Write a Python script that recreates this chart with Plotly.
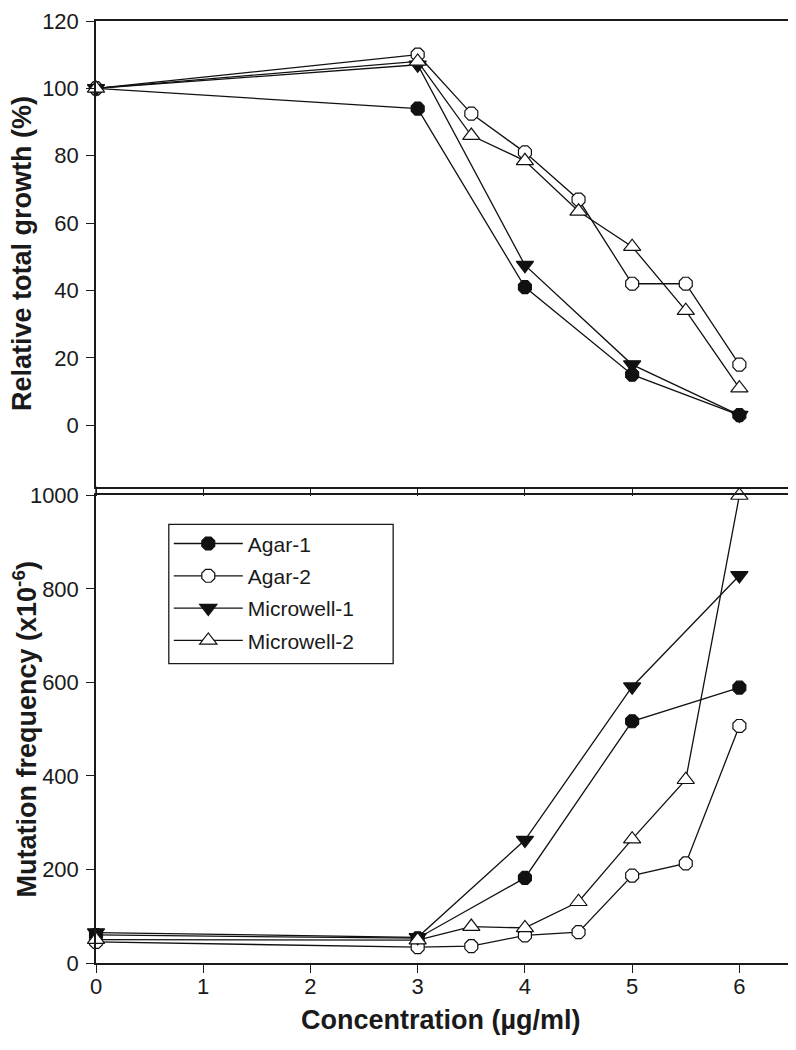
import plotly.graph_objects as go

# ---- data ----
conc_a = [0, 3, 4, 5, 6]
conc_b = [0, 3, 3.5, 4, 4.5, 5, 5.5, 6]

agar1_growth = [100, 94, 41, 15, 3]
agar2_growth = [100, 110, 92.5, 81, 67, 42, 42, 18]
mw1_growth = [100, 107, 47.5, 18, 3]
mw2_growth = [100, 108, 86, 78.5, 63.5, 53, 34, 11]

agar1_mf = [60, 53, 182, 517, 589]
agar2_mf = [45, 34, 36, 59, 66, 187, 213, 507]
mw1_mf = [65, 55, 263, 591, 829]
mw2_mf = [50, 49, 78, 75, 131, 265, 392, 1000]

series_names = ["Agar-1", "Agar-2", "Microwell-1", "Microwell-2"]
x_ticks = [0, 1, 2, 3, 4, 5, 6]
growth_ticks = [0, 20, 40, 60, 80, 100, 120]
mf_ticks = [0, 200, 400, 600, 800, 1000]

FONT = "Arial, Liberation Sans, sans-serif"
INK = "#1a1a1a"

styles = [
    dict(symbol="octagon", size=14, color="#111111", line=dict(color="#111111", width=1.2)),
    dict(symbol="octagon", size=14, color="white", line=dict(color="#111111", width=1.2)),
    dict(symbol="triangle-down", size=15, color="#111111", line=dict(color="#111111", width=1.2)),
    dict(symbol="triangle-up", size=15, color="white", line=dict(color="#111111", width=1.2)),
]

top_series = [(conc_a, agar1_growth), (conc_b, agar2_growth), (conc_a, mw1_growth), (conc_b, mw2_growth)]
bot_series = [(conc_a, agar1_mf), (conc_b, agar2_mf), (conc_a, mw1_mf), (conc_b, mw2_mf)]

fig = go.Figure()
for i, (name, st) in enumerate(zip(series_names, styles)):
    x, y = top_series[i]
    fig.add_trace(go.Scatter(x=x, y=y, mode="lines+markers", name=name, legendgroup=name,
                             showlegend=False, marker=st, line=dict(color="#111111", width=1.3),
                             cliponaxis=False, xaxis="x", yaxis="y"))
for i, (name, st) in enumerate(zip(series_names, styles)):
    x, y = bot_series[i]
    fig.add_trace(go.Scatter(x=x, y=y, mode="lines+markers", name=name, legendgroup=name,
                             showlegend=True, marker=st, line=dict(color="#111111", width=1.3),
                             cliponaxis=False, xaxis="x2", yaxis="y2"))

# page offset of 8px from the html body margin is compensated below
OFF = 8
W, H = 788, 1042
BOTTOM = 963          # page pixel of the lower x axis
TOP = 16              # page pixel of the upper frame
ml, mr = 96 - OFF, 1
mt, mb = TOP - OFF, (H + OFF) - BOTTOM
pw, ph = W - ml - mr, H - mt - mb

def py(px):  # page pixel y -> paper fraction
    return (BOTTOM - px) / ph

def pxx(px):  # page pixel x -> paper fraction
    return (px - 96) / pw

axis_common = dict(showline=True, linecolor=INK, linewidth=1.5, mirror=True,
                   ticks="outside", ticklen=8, tickwidth=1.3, tickcolor=INK,
                   showgrid=False, zeroline=False,
                   tickfont=dict(family=FONT, size=22, color=INK))

fig.update_layout(
    width=W, height=H,
    margin=dict(l=ml, r=mr, t=mt, b=mb),
    paper_bgcolor="white", plot_bgcolor="white",
    showlegend=True,
    xaxis=dict(domain=[0, 1], range=[0, 6.5], anchor="y", tickvals=x_ticks,
               showticklabels=False, **axis_common),
    yaxis=dict(domain=[py(484), 1], range=[-18.2, 120], anchor="x", tickvals=growth_ticks,
               ticklabelstandoff=3, **axis_common),
    xaxis2=dict(domain=[0, 1], range=[0, 6.5], anchor="y2", tickvals=x_ticks,
                ticklabelstandoff=-5, **axis_common),
    yaxis2=dict(domain=[0, py(493)], range=[0, 1000], anchor="x2", tickvals=mf_ticks,
                ticklabelstandoff=3, **axis_common),
    legend=dict(x=pxx(169), y=py(521), xanchor="left", yanchor="top",
                borderwidth=0, bgcolor="rgba(0,0,0,0)",
                font=dict(family=FONT, size=21, color=INK),
                tracegroupgap=2, itemwidth=69,
                traceorder="grouped"),
    annotations=[
        dict(text="<b>Relative total growth (%)</b>", xref="paper", yref="paper",
             x=pxx(22), y=py(250), textangle=-90, showarrow=False,
             font=dict(family=FONT, size=27, color=INK), xanchor="center", yanchor="middle"),
        dict(text="<b>Mutation frequency (x10<sup>-6</sup>)</b>", xref="paper", yref="paper",
             x=pxx(25), y=py(728), textangle=-90, showarrow=False,
             font=dict(family=FONT, size=27, color=INK), xanchor="center", yanchor="middle"),
        dict(text="<b>Concentration (µg/ml)</b>", xref="paper", yref="paper",
             x=pxx(442), y=py(1020), showarrow=False,
             font=dict(family=FONT, size=27, color=INK), xanchor="center", yanchor="middle"),
    ],
    shapes=[
        dict(type="line", xref="paper", yref="paper", x0=0, x1=0, y0=py(484), y1=py(493),
             line=dict(color=INK, width=1.5)),
        dict(type="rect", xref="paper", yref="paper", x0=pxx(169), x1=pxx(394),
             y0=py(662), y1=py(522), line=dict(color=INK, width=1.3), layer="below"),
    ],
)

fig.write_html("out.html")
